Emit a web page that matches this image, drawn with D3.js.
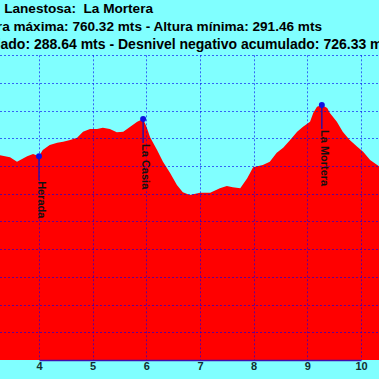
<!DOCTYPE html>
<html>
<head>
<meta charset="utf-8">
<script src="https://cdn.jsdelivr.net/npm/d3@7"></script>
<style>
  html, body { margin: 0; padding: 0; background: #80ffff; overflow: hidden; }
  svg { display: block; font-family: 'Liberation Sans', Arial, sans-serif; }
</style>
</head>
<body>
<div class="profile-chart"></div>
<script>
// profile: km along the route, altitude in m
const dist = [3.25, 3.46, 3.59, 3.65, 3.78, 3.89, 4.00, 4.07, 4.20, 4.34, 4.45, 4.58, 4.71, 4.82, 4.95,
  5.08, 5.19, 5.32, 5.45, 5.57, 5.70, 5.83, 5.94, 6.01, 6.07, 6.20, 6.31, 6.44, 6.57, 6.68, 6.81,
  7.00, 7.19, 7.37, 7.50, 7.61, 7.75, 7.88, 7.99, 8.17, 8.30, 8.43, 8.55, 8.68, 8.81, 8.92, 9.05,
  9.11, 9.18, 9.27, 9.37, 9.42, 9.55, 9.66, 9.79, 9.93, 10.04, 10.17, 10.36]
const alt = [670, 666, 658, 661, 668, 672, 668, 679, 688, 692, 694, 697, 701, 712, 717,
  717, 719, 717, 711, 712, 721, 730, 735, 719, 702, 679, 658, 638, 616, 603, 598,
  602, 602, 610, 614, 612, 610, 628, 648, 652, 658, 674, 683, 697, 712, 721, 730,
  746, 757, 760.32, 755, 746, 730, 712, 697, 685, 676, 661, 648]

const wpNames = ['Herada', 'La Casia', 'La Mortera']
const wpDist = [4.00, 5.94, 9.27]
const wpAlt = [668, 735, 760.32]

const xTicks = [3, 4, 5, 6, 7, 8, 9, 10, 11]
const xLabels = [4, 5, 6, 7, 8, 9, 10]
const yTicks = [350, 400, 450, 500, 550, 600, 650, 700, 750, 800, 850]

const titleLines = [
  'Lanestosa:  La Mortera',
  'Altura máxima: 760.32 mts - Altura mínima: 291.46 mts',
  'Desnivel positivo acumulado: 288.64 mts - Desnivel negativo acumulado: 726.33 mts'
]

const BG = '#80ffff'
const FILL = '#ff0000'
const GRID = '#0000ee'

const W = 379
const H = 379

const svg = d3.select('.profile-chart').append('svg')
  .attr('width', W)
  .attr('height', H)

svg.append('rect').attr('width', W).attr('height', H).attr('fill', BG)

const x = d3.scaleLinear().domain([4, 10]).range([39, 361])
const y = d3.scaleLinear().domain([300, 850]).range([360, 55.3])

// red profile
svg.append('path')
  .datum(dist.map((d, i) => [d, alt[i]]))
  .attr('fill', FILL)
  .attr('d', d3.area()
    .x(d => x(d[0]))
    .y0(y(300))
    .y1(d => y(d[1]))
  )

// dotted grid on top
svg.append('g')
  .selectAll('line')
  .data(xTicks)
  .join('line')
  .attr('x1', d => Math.round(x(d)) + 0.5)
  .attr('x2', d => Math.round(x(d)) + 0.5)
  .attr('y1', y(850))
  .attr('y2', y(300))
  .attr('stroke', GRID)
  .attr('stroke-opacity', 0.6)
  .attr('stroke-dasharray', '2,2')

svg.append('g')
  .selectAll('line')
  .data(yTicks)
  .join('line')
  .attr('x1', 0)
  .attr('x2', W)
  .attr('y1', d => Math.round(y(d)) + 0.5)
  .attr('y2', d => Math.round(y(d)) + 0.5)
  .attr('stroke', GRID)
  .attr('stroke-opacity', 0.6)
  .attr('stroke-dasharray', '2,2')

// bottom axis
const axis = svg.append('g')
  .attr('transform', `translate(0, ${y(300)})`)
  .call(d3.axisBottom(x).tickValues(xLabels).tickSize(0).tickPadding(2).tickFormat(d3.format('d')))
axis.select('.domain').attr('stroke', '#4010b0').attr('stroke-width', 1.5)
axis.selectAll('text')
  .attr('font-size', 11)
  .attr('font-weight', 'bold')
  .attr('font-family', "'Liberation Sans', Arial, sans-serif")
  .attr('fill', '#103030')

// waypoints
const wp = svg.append('g')
  .selectAll('g')
  .data(wpNames.map((n, i) => ({ name: n, d: wpDist[i], a: wpAlt[i] })))
  .join('g')
  .attr('transform', d => `translate(${x(d.d)}, ${y(d.a)})`)

wp.append('line')
  .attr('y1', 0)
  .attr('y2', 24)
  .attr('stroke', '#3010a0')
  .attr('stroke-width', 1.5)

wp.append('circle')
  .attr('r', 3)
  .attr('fill', '#1010e0')

wp.append('text')
  .attr('transform', 'translate(-1, 25) rotate(90)')
  .attr('font-size', 11)
  .attr('font-weight', 'bold')
  .attr('fill', '#111')
  .text(d => d.name)

// titles (right ends as in the picture)
const titleEnds = [153, 322, 395]
const titleBase = [13, 31, 49]
const titleSize = [13.6, 13.6, 14]
svg.append('g')
  .selectAll('text')
  .data(titleLines)
  .join('text')
  .attr('x', (d, i) => titleEnds[i])
  .attr('y', (d, i) => titleBase[i])
  .attr('text-anchor', 'end')
  .attr('font-size', (d, i) => titleSize[i])
  .attr('font-weight', 'bold')
  .attr('fill', '#000')
  .style('white-space', 'pre')
  .text(d => d)
</script>
</body>
</html>
